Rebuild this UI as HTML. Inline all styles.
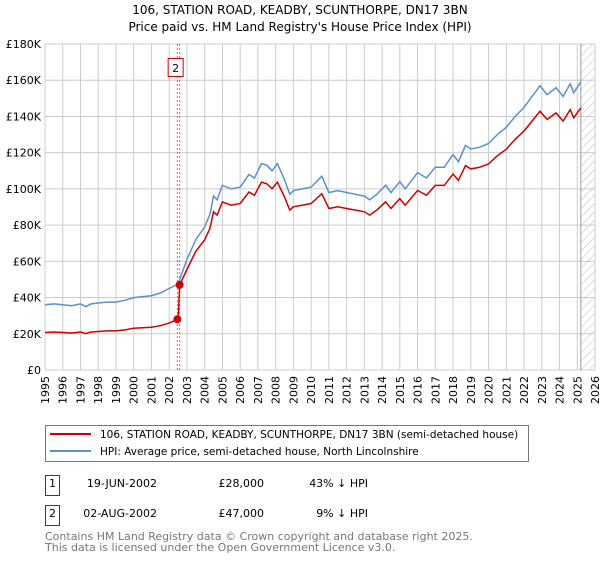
<!DOCTYPE html>
<html><head><meta charset="utf-8"><style>
body{margin:0;background:#fff;font-family:"DejaVu Sans","Liberation Sans",sans-serif;}
svg text{font-family:"DejaVu Sans","Liberation Sans",sans-serif;}
</style></head><body>
<svg id="c" width="600" height="560" xmlns="http://www.w3.org/2000/svg">
<defs><pattern id="hatch" width="6" height="6" patternUnits="userSpaceOnUse" patternTransform="rotate(45)"><line x1="0" y1="0" x2="0" y2="6" stroke="#bbb" stroke-width="1"/></pattern></defs>
<text x="300" y="14" text-anchor="middle" font-size="12">106, STATION ROAD, KEADBY, SCUNTHORPE, DN17 3BN</text>
<text x="300" y="31" text-anchor="middle" font-size="12">Price paid vs. HM Land Registry's House Price Index (HPI)</text>
<g id="grid"></g><g id="marks"></g>
<rect x="45.5" y="425.5" width="483" height="36" fill="#fff" stroke="#777"/>
<line x1="50" y1="434" x2="91" y2="434" stroke="#cc0000" stroke-width="2"/>
<text x="100" y="438" font-size="10.5">106, STATION ROAD, KEADBY, SCUNTHORPE, DN17 3BN (semi-detached house)</text>
<line x1="50" y1="451" x2="91" y2="451" stroke="#5b8fd0" stroke-width="2"/>
<text x="100" y="455" font-size="10.5">HPI: Average price, semi-detached house, North Lincolnshire</text>
<rect x="45.5" y="475.5" width="14" height="20" fill="none" stroke="#cc0000"/>
<text x="52.5" y="487" text-anchor="middle" font-size="11">1</text>
<text x="157" y="487" text-anchor="end" font-size="11">19-JUN-2002</text>
<text x="264" y="487" text-anchor="end" font-size="11">£28,000</text>
<text x="368" y="487" text-anchor="end" font-size="11">43% ↓ HPI</text>
<rect x="45.5" y="505.5" width="14" height="20" fill="none" stroke="#cc0000"/>
<text x="52.5" y="517" text-anchor="middle" font-size="11">2</text>
<text x="157" y="517" text-anchor="end" font-size="11">02-AUG-2002</text>
<text x="264" y="517" text-anchor="end" font-size="11">£47,000</text>
<text x="368" y="517" text-anchor="end" font-size="11">9% ↓ HPI</text>
<text x="45" y="540" font-size="11" fill="#777">Contains HM Land Registry data © Crown copyright and database right 2025.</text>
<text x="45" y="551" font-size="11" fill="#777">This data is licensed under the Open Government Licence v3.0.</text>
</svg>
<script>
const yTicks=[0,20000,40000,60000,80000,100000,120000,140000,160000,180000];
const yTickLabels=["£0","£20K","£40K","£60K","£80K","£100K","£120K","£140K","£160K","£180K"];
const xTicks=[1995,1996,1997,1998,1999,2000,2001,2002,2003,2004,2005,2006,2007,2008,2009,2010,2011,2012,2013,2014,2015,2016,2017,2018,2019,2020,2021,2022,2023,2024,2025,2026];
const hpiYears=[1995,1995.5,1996,1996.5,1997,1997.3,1997.6,1998,1998.5,1999,1999.5,2000,2000.5,2001,2001.5,2002,2002.5,2003,2003.5,2004,2004.3,2004.5,2004.7,2005,2005.5,2006,2006.5,2006.8,2007.2,2007.5,2007.8,2008.1,2008.5,2008.8,2009,2009.5,2010,2010.6,2011,2011.5,2012,2012.5,2013,2013.3,2013.7,2014.2,2014.5,2015,2015.3,2016,2016.5,2017,2017.5,2018,2018.3,2018.7,2019,2019.5,2020,2020.5,2021,2021.5,2022,2022.3,2022.9,2023.3,2023.8,2024.2,2024.6,2024.8,2025.2];
const hpiValues=[36000,36500,36000,35500,36500,35000,36500,37000,37500,37500,38500,40000,40500,41000,42500,45000,47500,61000,72000,79000,86000,96000,94000,102000,100000,101000,108000,106000,114000,113000,110000,114000,105000,97000,99000,100000,101000,107000,98000,99000,98000,97000,96000,94000,97000,102000,98000,104000,100000,109000,106000,112000,112000,119000,115000,124000,122000,123000,125000,130000,134000,140000,145000,149000,157000,152000,156000,151000,158000,153000,159000];
const saleDates=[2002.46,2002.59];
const salePrices=[28000,47000];
const ratios=[0.575,0.91];
const ns="http://www.w3.org/2000/svg";
const X0=45,X1=595,Y0=370,Y1=44;
const xs=v=>X0+(v-1995)/(2026-1995)*(X1-X0);
const ys=v=>Y0-v/180000*(Y0-Y1);
const grid=document.getElementById('grid'),marks=document.getElementById('marks');
function mk(tag,at,parent){const e=document.createElementNS(ns,tag);for(const k in at)e.setAttribute(k,at[k]);parent.appendChild(e);return e;}
yTicks.forEach((t,i)=>{
 const l=mk('line',{x1:X0,x2:X1,y1:ys(t),y2:ys(t),stroke:'#ccc'},grid);
 
 
 const tx=mk('text',{x:X0-4,y:ys(t)+4,'text-anchor':'end','font-size':'11'},grid);tx.textContent=yTickLabels[i];
 
 
});
xTicks.forEach(t=>{
 const l=mk('line',{x1:xs(t),x2:xs(t),y1:Y1,y2:Y0,stroke:'#ccc'},grid);
 
 
 const px=xs(t)+4,py=Y0+6;
 const tx=mk('text',{x:px,y:py,'text-anchor':'end','font-size':'11',transform:'rotate(-90 '+px+' '+py+')'},grid);tx.textContent=t;
 
 
});
const lastD=hpiYears[hpiYears.length-1];
const h=mk('rect',{x:xs(lastD),y:Y1,width:X1-xs(lastD),height:Y0-Y1,fill:'url(#hatch)'},grid);


const vl=mk('line',{x1:xs(lastD),x2:xs(lastD),y1:Y1,y2:Y0,stroke:'#999'},grid);


saleDates.forEach((d,i)=>{
 const l=mk('line',{x1:xs(d),x2:xs(d),y1:Y1,y2:Y0,stroke:'#f55','stroke-dasharray':'2,2'},marks);
 
 
});
const hp=hpiYears.map((d,i)=>xs(d).toFixed(1)+','+ys(hpiValues[i]).toFixed(1)).join(' ');
const hl=mk('polyline',{points:hp,fill:'none',stroke:'#5b8fd0','stroke-width':1.5},marks);


const pts=[];
hpiYears.forEach((d,i)=>{const r=d<saleDates[1]?ratios[0]:ratios[1];pts.push([d,hpiValues[i]*r]);});
pts.push([saleDates[0],salePrices[0]],[saleDates[1],salePrices[1]]);
pts.sort((a,b)=>a[0]-b[0]);
const rp=mk('polyline',{points:pts.map(p=>xs(p[0]).toFixed(1)+','+ys(p[1]).toFixed(1)).join(' '),fill:'none',stroke:'#cc0000','stroke-width':1.5},marks);


saleDates.forEach((d,i)=>{
 const c=mk('circle',{cx:xs(d),cy:ys(salePrices[i]),r:4,fill:'#cc0000'},marks);
 
 
});
const bx=xs(saleDates[1]);
const b=mk('rect',{x:bx-11.5,y:58.5,width:15,height:18,fill:'#fff',stroke:'#cc0000'},marks);


const bt=mk('text',{x:bx-4,y:72,'text-anchor':'middle','font-size':'11'},marks);bt.textContent='2';


</script>
</body></html>
